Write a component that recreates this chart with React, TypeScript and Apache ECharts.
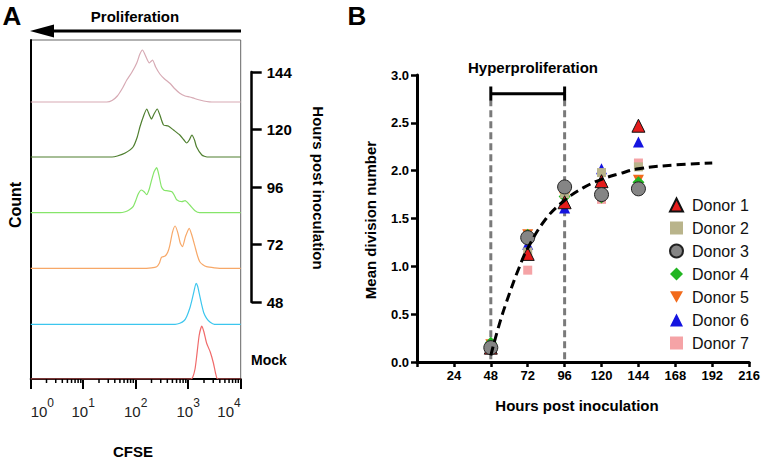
import React, { useEffect, useRef } from "react";
import * as echarts from "echarts";

const FONT = '"Liberation Sans", Arial, Helvetica, sans-serif';

// ---------- Panel A: CFSE histograms (x = log10 CFSE, y = count, offset per row) ----------
const HIST_LABELS = ["Mock", "48", "72", "96", "120", "144"];
const HIST_COLORS = ["#f06a6a", "#3cc6ee", "#f7a868", "#86e56a", "#4f7f2f", "#d7aab4"];
const ROW_OFFSETS = [0, 54.7, 110.7, 166.3, 222, 277];
const HIST_MOCK = [[0,0],[3.05,0],[3.09,2.3],[3.13,10],[3.16,22],[3.21,44],[3.26,53],[3.3,47],[3.35,36],[3.42,27],[3.48,16],[3.52,6],[3.55,0.5],[3.6,0],[4,0]];
const HIST_48 = [[0,0],[2.75,0],[2.84,1],[2.92,3.5],[2.97,7.6],[3.03,16],[3.07,24],[3.11,33],[3.15,41],[3.18,38],[3.21,31],[3.26,19],[3.3,11],[3.35,6],[3.42,2],[3.5,0],[4,0]];
const HIST_72 = [[0,0],[2.1,0],[2.3,0.5],[2.4,1.6],[2.45,5],[2.49,11],[2.56,12.3],[2.61,16],[2.65,23],[2.7,36],[2.75,42.3],[2.8,36],[2.85,25],[2.89,21.6],[2.95,32],[3.02,40],[3.07,33],[3.13,21.6],[3.18,12],[3.22,6.6],[3.28,3.5],[3.35,1.6],[3.5,0.4],[3.6,0],[4,0]];
const HIST_96 = [[0,0],[1.7,0],[1.8,1],[1.88,3],[1.95,6],[2.0,12],[2.05,19],[2.11,22.7],[2.16,21],[2.21,18],[2.26,24],[2.3,32],[2.35,41],[2.4,45],[2.44,38],[2.49,26],[2.54,22.5],[2.59,22],[2.69,21],[2.74,17],[2.78,13],[2.88,11],[2.94,12],[3.03,7.7],[3.13,2],[3.22,0],[4,0]];
const HIST_120 = [[0,0],[1.55,0],[1.65,1],[1.8,4],[1.95,10],[2.03,20],[2.08,30],[2.15,41],[2.21,48],[2.26,42],[2.3,38],[2.35,43],[2.41,48],[2.46,42],[2.53,32],[2.62,31],[2.72,27],[2.84,22],[2.92,17],[2.97,14],[3.02,17],[3.07,22],[3.12,17],[3.16,10],[3.26,2],[3.36,0],[4,0]];
const HIST_144 = [[0,0],[1.45,0],[1.55,1.5],[1.65,6],[1.75,14],[1.83,22],[1.93,30],[2.02,39],[2.08,48],[2.13,52],[2.18,47],[2.26,39],[2.32,42],[2.38,35],[2.46,28],[2.55,23],[2.65,18.7],[2.75,13],[2.84,8.7],[2.94,6],[3.03,5],[3.12,3.5],[3.22,2],[3.35,0.5],[3.45,0],[4,0]];
const HISTS = [HIST_MOCK, HIST_48, HIST_72, HIST_96, HIST_120, HIST_144];
const DECADES = [0, 1, 2, 3];
const MINOR_MULTIPLIERS = [2, 3, 4, 5, 6, 7, 8, 9];
const HOURS_TICKS = [48, 72, 96, 120, 144];

// ---------- Panel B: mean division number ----------
const HOURS = [48, 72, 96, 120, 144];
const DONOR_NAMES = ["Donor 1", "Donor 2", "Donor 3", "Donor 4", "Donor 5", "Donor 6", "Donor 7"];
const DONOR_1 = [0.15, 1.13, 1.67, 1.89, 2.47];
const DONOR_2 = [0.17, 1.15, 1.76, 1.98, 2.04];
const DONOR_3 = [0.15, 1.30, 1.83, 1.75, 1.81];
const DONOR_4 = [0.20, 1.33, 1.73, 1.72, 1.88];
const DONOR_5 = [0.18, 1.33, 1.72, 1.81, 1.90];
const DONOR_6 = [0.17, 1.23, 1.61, 2.02, 2.30];
const DONOR_7 = [0.16, 0.96, 1.75, 1.70, 2.08];
const DONOR_VALUES = [DONOR_1, DONOR_2, DONOR_3, DONOR_4, DONOR_5, DONOR_6, DONOR_7];
const FIT_X = [48, 54, 60, 66, 72, 84, 96, 108, 120, 132, 144, 168, 192];
const FIT_Y = [0.07, 0.42, 0.71, 0.97, 1.19, 1.50, 1.69, 1.82, 1.91, 1.97, 2.02, 2.06, 2.08];
const HYPER_START = 48;
const HYPER_END = 96;

const DOWN_TRIANGLE = "path://M0,0L10,0L5,8.66Z";

const DONOR_STYLE = [
  { symbol: "triangle", size: 13, color: "#e51c1c", border: "#111", bw: 1, z: 6 },
  { symbol: "rect", size: 9, color: "#b9b48b", border: "#b9b48b", bw: 0, z: 5 },
  { symbol: "circle", size: 14, color: "#858585", border: "#222", bw: 1, z: 7 },
  { symbol: "diamond", size: 12, color: "#22b522", border: "#22b522", bw: 0, z: 4 },
  { symbol: DOWN_TRIANGLE, size: 11, color: "#f26a1b", border: "#f26a1b", bw: 0, z: 3 },
  { symbol: "triangle", size: 11, color: "#1414e0", border: "#1414e0", bw: 0, z: 3 },
  { symbol: "rect", size: 9, color: "#f5a3a6", border: "#f5a3a6", bw: 0, z: 2 },
];

const boldText = (text: string, x: number, y: number, size: number, rotation = 0, align = "center") => ({
  type: "text",
  x,
  y,
  rotation,
  style: { text, fill: "#000", font: `bold ${size}px ${FONT}`, textAlign: align, textVerticalAlign: "middle" },
  silent: true,
});

function buildOption() {
  const minorTicks: number[][] = [];
  DECADES.forEach((d) => MINOR_MULTIPLIERS.forEach((m) => minorTicks.push([d + Math.log10(m), 0])));

  const histSeries = HISTS.map((h, i) => ({
    type: "line",
    xAxisIndex: 0,
    yAxisIndex: 0,
    data: h.map(([x, c]) => [x, c + ROW_OFFSETS[i]]),
    smooth: 0.2,
    showSymbol: false,
    silent: true,
    z: 3,
    lineStyle: { color: HIST_COLORS[i], width: 1.2 },
  }));

  const donorSeries = DONOR_VALUES.map((vals, i) => {
    const s = DONOR_STYLE[i];
    return {
      name: DONOR_NAMES[i],
      type: "scatter",
      xAxisIndex: 2,
      yAxisIndex: 2,
      data: vals.map((v, j) => [HOURS[j], v]),
      symbol: s.symbol,
      symbolSize: s.size,
      z: s.z,
      itemStyle: { color: s.color, borderColor: s.border, borderWidth: s.bw, opacity: 1 },
    };
  });

  return {
    animation: false,
    backgroundColor: "#fff",
    textStyle: { fontFamily: FONT },
    grid: [
      { left: 30.7, top: 40, width: 210, height: 339, show: true, borderColor: "#666", borderWidth: 1 },
      { left: 245, top: 72, width: 6.7, height: 230 },
      { left: 417, top: 75, width: 335, height: 287 },
    ],
    xAxis: [
      {
        gridIndex: 0,
        type: "value",
        min: 0,
        max: 4,
        interval: 1,
        axisLine: { lineStyle: { color: "#000", width: 2 } },
        axisTick: { length: 10, lineStyle: { color: "#000", width: 2 } },
        splitLine: { show: false },
        axisLabel: {
          margin: 18,
          alignMinLabel: "left",
          alignMaxLabel: "right",
          formatter: (v: number) => `{b|10}{s|${v}}`,
          rich: {
            b: { fontSize: 15, color: "#222", fontFamily: FONT, verticalAlign: "bottom" },
            s: { fontSize: 12, color: "#222", fontFamily: FONT, verticalAlign: "top", padding: [0, 0, 10, 0] },
          },
        },
      },
      { gridIndex: 1, type: "value", show: false, min: 0, max: 1 },
      {
        gridIndex: 2,
        type: "value",
        min: 0,
        max: 216,
        interval: 24,
        axisLine: { lineStyle: { color: "#000", width: 3 } },
        axisTick: { length: 5, lineStyle: { color: "#000", width: 2.5 } },
        splitLine: { show: false },
        axisLabel: {
          margin: 7,
          color: "#000",
          fontWeight: "bold",
          fontSize: 13,
          fontFamily: FONT,
          formatter: (v: number) => (v === 0 ? "" : String(v)),
        },
      },
    ],
    yAxis: [
      {
        gridIndex: 0,
        type: "value",
        min: 0,
        max: 339,
        axisLine: { show: true, lineStyle: { color: "#000", width: 2 } },
        axisTick: { show: false },
        axisLabel: { show: false },
        splitLine: { show: false },
      },
      {
        gridIndex: 1,
        type: "value",
        position: "right",
        min: HOURS_TICKS[0],
        max: HOURS_TICKS[HOURS_TICKS.length - 1],
        interval: 24,
        axisLine: { show: true, onZero: false, lineStyle: { color: "#000", width: 2.5 } },
        axisTick: { show: true, length: 10, lineStyle: { color: "#000", width: 2.5 } },
        splitLine: { show: false },
        axisLabel: { margin: 15, color: "#000", fontWeight: "bold", fontSize: 15, fontFamily: FONT },
      },
      {
        gridIndex: 2,
        type: "value",
        min: 0,
        max: 3,
        interval: 0.5,
        axisLine: { show: true, lineStyle: { color: "#000", width: 3 } },
        axisTick: { show: true, length: 6, lineStyle: { color: "#000", width: 2.5 } },
        splitLine: { show: false },
        axisLabel: {
          margin: 8,
          color: "#000",
          fontWeight: "bold",
          fontSize: 13,
          fontFamily: FONT,
          formatter: (v: number) => v.toFixed(1),
        },
      },
    ],
    legend: {
      data: DONOR_NAMES,
      orient: "vertical",
      left: 664,
      top: 192,
      itemWidth: 13,
      itemHeight: 13,
      itemGap: 7,
      textStyle: { fontSize: 16, color: "#111", fontFamily: FONT, lineHeight: 16, padding: [0, 0, 0, 4] },
      selectedMode: false,
    },
    series: [
      ...histSeries,
      {
        type: "custom",
        xAxisIndex: 0,
        yAxisIndex: 0,
        silent: true,
        clip: false,
        z: 4,
        data: minorTicks,
        renderItem: (params: any, api: any) => {
          const p = api.coord([api.value(0), 0]);
          return {
            type: "line",
            shape: { x1: p[0], y1: p[1], x2: p[0], y2: p[1] + 4 },
            style: { stroke: "#000", lineWidth: 1.5 },
          };
        },
      },
      {
        type: "line",
        xAxisIndex: 2,
        yAxisIndex: 2,
        data: [[HYPER_START, 0.03], [HYPER_START, 2.73]],
        showSymbol: false,
        silent: true,
        z: 1,
        lineStyle: { color: "#7a7a7a", width: 3, type: [7, 4] },
      },
      {
        type: "line",
        xAxisIndex: 2,
        yAxisIndex: 2,
        data: [[HYPER_END, 0.03], [HYPER_END, 2.73]],
        showSymbol: false,
        silent: true,
        z: 1,
        lineStyle: { color: "#7a7a7a", width: 3, type: [7, 4] },
      },
      {
        type: "line",
        xAxisIndex: 2,
        yAxisIndex: 2,
        data: [
          [HYPER_START, 2.88],
          [HYPER_START, 2.73],
          [HYPER_START, 2.805],
          [HYPER_END, 2.805],
          [HYPER_END, 2.88],
          [HYPER_END, 2.73],
        ],
        showSymbol: false,
        silent: true,
        z: 2,
        lineStyle: { color: "#000", width: 3 },
      },
      ...donorSeries,
      {
        type: "line",
        xAxisIndex: 2,
        yAxisIndex: 2,
        data: FIT_X.map((x, i) => [x, FIT_Y[i]]),
        smooth: 0.4,
        showSymbol: false,
        silent: true,
        z: 8,
        lineStyle: { color: "#000", width: 3, type: [9, 5] },
      },
    ],
    graphic: [
      boldText("A", 12, 16, 26),
      boldText("B", 357, 16, 26),
      boldText("Proliferation", 135, 16, 15),
      { type: "line", shape: { x1: 50, y1: 31, x2: 241, y2: 31 }, style: { stroke: "#000", lineWidth: 3 }, silent: true },
      { type: "polygon", shape: { points: [[30, 31], [54, 24.5], [54, 37.5]] }, style: { fill: "#000" }, silent: true },
      boldText("Count", 15, 205, 16, Math.PI / 2),
      boldText("CFSE", 133, 451, 15),
      boldText("Mock", 251, 360, 14, 0, "left"),
      boldText("Hours post inoculation", 318, 188, 15, -Math.PI / 2),
      boldText("Hyperproliferation", 533, 67, 15),
      boldText("Mean division number", 370, 220, 15, Math.PI / 2),
      boldText("Hours post inoculation", 577, 405, 15),
    ],
  };
}

export default function App() {
  const ref = useRef<HTMLDivElement>(null);
  useEffect(() => {
    if (!ref.current) return;
    const chart = echarts.init(ref.current, null, { renderer: "svg" });
    chart.setOption(buildOption() as any);
    return () => chart.dispose();
  }, []);
  return (
    <div
      ref={ref}
      style={{ position: "fixed", left: 0, top: 0, width: 763, height: 458, background: "#fff" }}
    />
  );
}
